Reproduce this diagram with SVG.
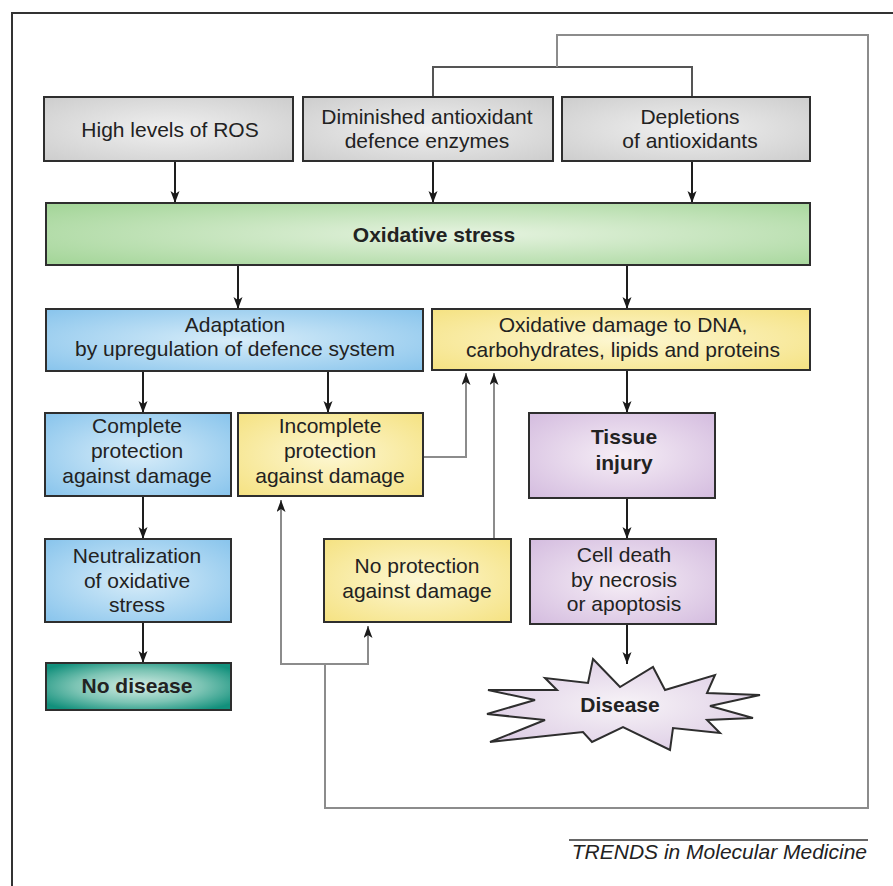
<svg xmlns="http://www.w3.org/2000/svg" width="893" height="886" viewBox="0 0 893 886">
<defs>
<radialGradient id="gGray" cx="0.5" cy="0.5" r="0.7"><stop offset="0" stop-color="#f0f0f0"/><stop offset="1" stop-color="#cdcdcd"/></radialGradient>
<radialGradient id="gGreen" cx="0.55" cy="0.5" r="0.7"><stop offset="0" stop-color="#e6f3e0"/><stop offset="1" stop-color="#a5d69a"/></radialGradient>
<radialGradient id="gBlue" cx="0.5" cy="0.5" r="0.7"><stop offset="0" stop-color="#d8edf9"/><stop offset="1" stop-color="#88c4ec"/></radialGradient>
<radialGradient id="gYellow" cx="0.5" cy="0.5" r="0.7"><stop offset="0" stop-color="#fdf7d2"/><stop offset="1" stop-color="#f5e282"/></radialGradient>
<radialGradient id="gPurple" cx="0.5" cy="0.5" r="0.7"><stop offset="0" stop-color="#f6eef6"/><stop offset="1" stop-color="#d4bcdf"/></radialGradient>
<radialGradient id="gTeal" cx="0.5" cy="0.5" r="0.62"><stop offset="0" stop-color="#d6ede6"/><stop offset="0.55" stop-color="#7cc4b4"/><stop offset="1" stop-color="#12907c"/></radialGradient>
<radialGradient id="gStar" cx="0.5" cy="0.5" r="0.6"><stop offset="0" stop-color="#f7f3f7"/><stop offset="1" stop-color="#dccbe4"/></radialGradient>
<marker id="arr" markerUnits="userSpaceOnUse" markerWidth="13" markerHeight="10" refX="12" refY="4.5" orient="auto">
<path d="M0,0 L12,4.5 L0,9 L3,4.5 z" fill="#1a1a1a"/>
</marker>
<style>
.box{stroke:#2e2e2e;stroke-width:2}
.t{font-family:"Liberation Sans",Arial,sans-serif;font-size:21px;fill:#222;text-anchor:middle}
.b{font-weight:bold}
.c{fill:none;stroke:#1e1e1e;stroke-width:2}
.g{fill:none;stroke:#8c8c8c;stroke-width:2}
.dg{fill:none;stroke:#555;stroke-width:2}
</style>
</defs>
<rect width="893" height="886" fill="#fff"/>
<path d="M12,886 V13 H893" fill="none" stroke="#333" stroke-width="2"/>

<g id="connectors">
<path class="dg" d="M433,97 V67 H692 V97"/>
<path class="g" d="M557,67 V35 H868 V808 H325 V664"/>
<path class="g" d="M325,664 H281 V500" marker-end="url(#arr)"/>
<path class="g" d="M325,664 H368 V626" marker-end="url(#arr)"/>
<path class="g" d="M423,457 H466 V373" marker-end="url(#arr)"/>
<path class="g" d="M494,539 V373" marker-end="url(#arr)"/>
<path class="c" d="M175,161 V203" marker-end="url(#arr)"/>
<path class="c" d="M433,161 V203" marker-end="url(#arr)"/>
<path class="c" d="M692,161 V203" marker-end="url(#arr)"/>
<path class="c" d="M238,265 V309" marker-end="url(#arr)"/>
<path class="c" d="M627,265 V309" marker-end="url(#arr)"/>
<path class="c" d="M143,371 V413" marker-end="url(#arr)"/>
<path class="c" d="M328,371 V413" marker-end="url(#arr)"/>
<path class="c" d="M627,370 V413" marker-end="url(#arr)"/>
<path class="c" d="M143,496 V539" marker-end="url(#arr)"/>
<path class="c" d="M143,622 V663" marker-end="url(#arr)"/>
<path class="c" d="M627,498 V539" marker-end="url(#arr)"/>
<path class="c" d="M627,624 V664" marker-end="url(#arr)"/>
</g>

<g id="ros">
<rect class="box" x="44" y="97" width="249" height="64" fill="url(#gGray)"/>
<text class="t" x="170" y="137">High levels of ROS</text>
</g>
<g id="diminished">
<rect class="box" x="303" y="97" width="250" height="64" fill="url(#gGray)"/>
<text class="t" x="427" y="124">Diminished antioxidant</text>
<text class="t" x="427" y="148">defence enzymes</text>
</g>
<g id="depletions">
<rect class="box" x="562" y="97" width="248" height="64" fill="url(#gGray)"/>
<text class="t" x="690" y="124">Depletions</text>
<text class="t" x="690" y="148">of antioxidants</text>
</g>
<g id="oxstress">
<rect class="box" x="46" y="203" width="764" height="62" fill="url(#gGreen)"/>
<text class="t b" x="434" y="242">Oxidative stress</text>
</g>
<g id="adaptation">
<rect class="box" x="46" y="309" width="377" height="62" fill="url(#gBlue)"/>
<text class="t" x="235" y="332">Adaptation</text>
<text class="t" x="235" y="356">by upregulation of defence system</text>
</g>
<g id="damage">
<rect class="box" x="432" y="309" width="378" height="61" fill="url(#gYellow)"/>
<text class="t" x="623" y="332">Oxidative damage to DNA,</text>
<text class="t" x="623" y="357">carbohydrates, lipids and proteins</text>
</g>
<g id="complete">
<rect class="box" x="45" y="413" width="186" height="83" fill="url(#gBlue)"/>
<text class="t" x="137" y="433">Complete</text>
<text class="t" x="137" y="458">protection</text>
<text class="t" x="137" y="483">against damage</text>
</g>
<g id="incomplete">
<rect class="box" x="238" y="413" width="185" height="83" fill="url(#gYellow)"/>
<text class="t" x="330" y="433">Incomplete</text>
<text class="t" x="330" y="458">protection</text>
<text class="t" x="330" y="483">against damage</text>
</g>
<g id="tissue">
<rect class="box" x="529" y="413" width="186" height="85" fill="url(#gPurple)"/>
<text class="t b" x="624" y="444">Tissue</text>
<text class="t b" x="624" y="470">injury</text>
</g>
<g id="neutralization">
<rect class="box" x="45" y="539" width="186" height="83" fill="url(#gBlue)"/>
<text class="t" x="137" y="563">Neutralization</text>
<text class="t" x="137" y="588">of oxidative</text>
<text class="t" x="137" y="612">stress</text>
</g>
<g id="noprotection">
<rect class="box" x="324" y="539" width="187" height="83" fill="url(#gYellow)"/>
<text class="t" x="417" y="573">No protection</text>
<text class="t" x="417" y="598">against damage</text>
</g>
<g id="celldeath">
<rect class="box" x="530" y="539" width="186" height="85" fill="url(#gPurple)"/>
<text class="t" x="624" y="562">Cell death</text>
<text class="t" x="624" y="587">by necrosis</text>
<text class="t" x="624" y="611">or apoptosis</text>
</g>
<g id="nodisease">
<rect class="box" x="46" y="663" width="185" height="47" fill="url(#gTeal)"/>
<text class="t b" x="137" y="693">No disease</text>
</g>
<g id="disease">
<polygon points="593,659 620,687 653,667 665,690 715,675 707,693 760,695 710,706 753,718 707,720 720,733 673,728 670,750 623,727 592,742 583,732 490,742 545,720 487,714 535,700 488,690 557,690 545,678 588,683" fill="url(#gStar)" stroke="#2e2e2e" stroke-width="2" stroke-linejoin="miter"/>
<text class="t b" x="620" y="712">Disease</text>
</g>
<g id="credit">
<path d="M569,840 H868" stroke="#333" stroke-width="1.6"/>
<text x="867" y="859" font-family="'Liberation Sans',Arial,sans-serif" font-size="21" font-style="italic" fill="#222" text-anchor="end">TRENDS in Molecular Medicine</text>
</g>
</svg>
